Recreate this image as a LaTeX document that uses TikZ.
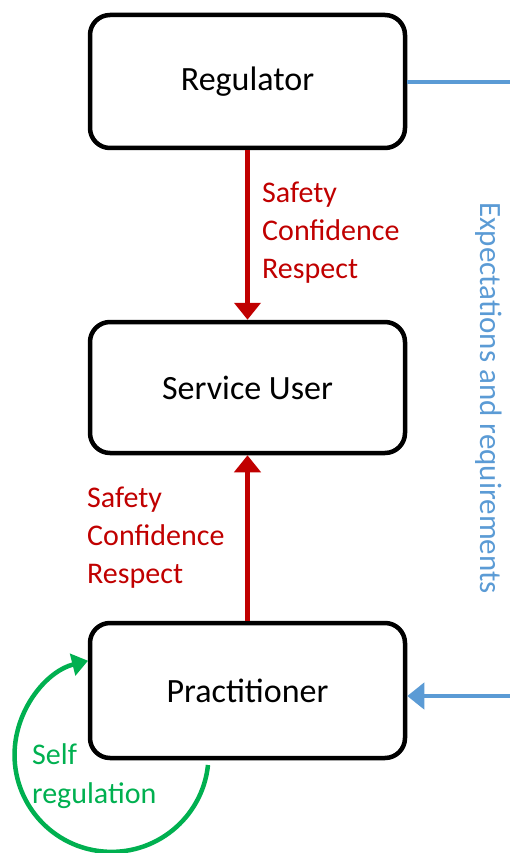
\documentclass[tikz,border=0pt]{standalone}
\usepackage{fontspec}
\setmainfont{Carlito}
\usetikzlibrary{arrows.meta}
\definecolor{flowred}{HTML}{C00000}
\definecolor{flowblue}{HTML}{5B9BD5}
\definecolor{flowgreen}{HTML}{00B050}
\begin{document}
\begin{tikzpicture}[x=1pt,y=-1pt,
  rolebox/.style={draw=black, line width=4.5pt, rounded corners=20pt,
    minimum width=315pt, minimum height=133pt, inner sep=0pt,
    font=\fontsize{34}{40}\selectfont},
  redlink/.style={draw=flowred, line width=4.5pt,
    -{Triangle[length=17pt,width=26pt]}},
  bluelink/.style={draw=flowblue, line width=4.5pt},
  greenlink/.style={draw=flowgreen, line width=4.5pt,
    -{Triangle[length=16pt,width=22pt]}},
  redtext/.style={text=flowred, align=left, anchor=west, inner sep=0pt,
    font=\fontsize{30}{38}\selectfont},
]
\useasboundingbox (0,0) rectangle (510,853);

% the three roles
\node[rolebox] (reg) at (247.5,81.5) {Regulator};
\node[rolebox, minimum height=131pt] (su) at (247.5,387.5) {Service User};
\node[rolebox, minimum height=135pt] (pr) at (247.5,690.5) {Practitioner};

% what flows towards the service user
\draw[redlink] (reg.south) -- (su.north);
\draw[redlink] (pr.north) -- (su.south);
\node[redtext] (lab1) at (262,233) {Safety\\Confidence\\Respect};
\node[redtext] (lab2) at (87,538) {Safety\\Confidence\\Respect};

% expectations from the regulator back to the practitioner
\coordinate (outtop) at (510,82);
\coordinate (outbot) at (510,696);
\draw[bluelink] (reg.east |- outtop) -- (outtop);
\draw[bluelink, -{Triangle[length=17pt,width=26pt]}] (outbot) -- (pr.east |- outbot);
\node[rotate=-90, text=flowblue, inner sep=0pt,
  font=\fontsize{31}{36}\selectfont] (expect) at (489,398)
  {Expectations and requirements};

% self regulation loop
\coordinate (loopstart) at (208,765);
\draw[greenlink] (loopstart) arc[start angle=6, end angle=256, radius=97];
\node[redtext, text=flowgreen, font=\fontsize{30}{39}\selectfont]
  (selfreg) at (32,776) {Self\\regulation};
\end{tikzpicture}
\end{document}
